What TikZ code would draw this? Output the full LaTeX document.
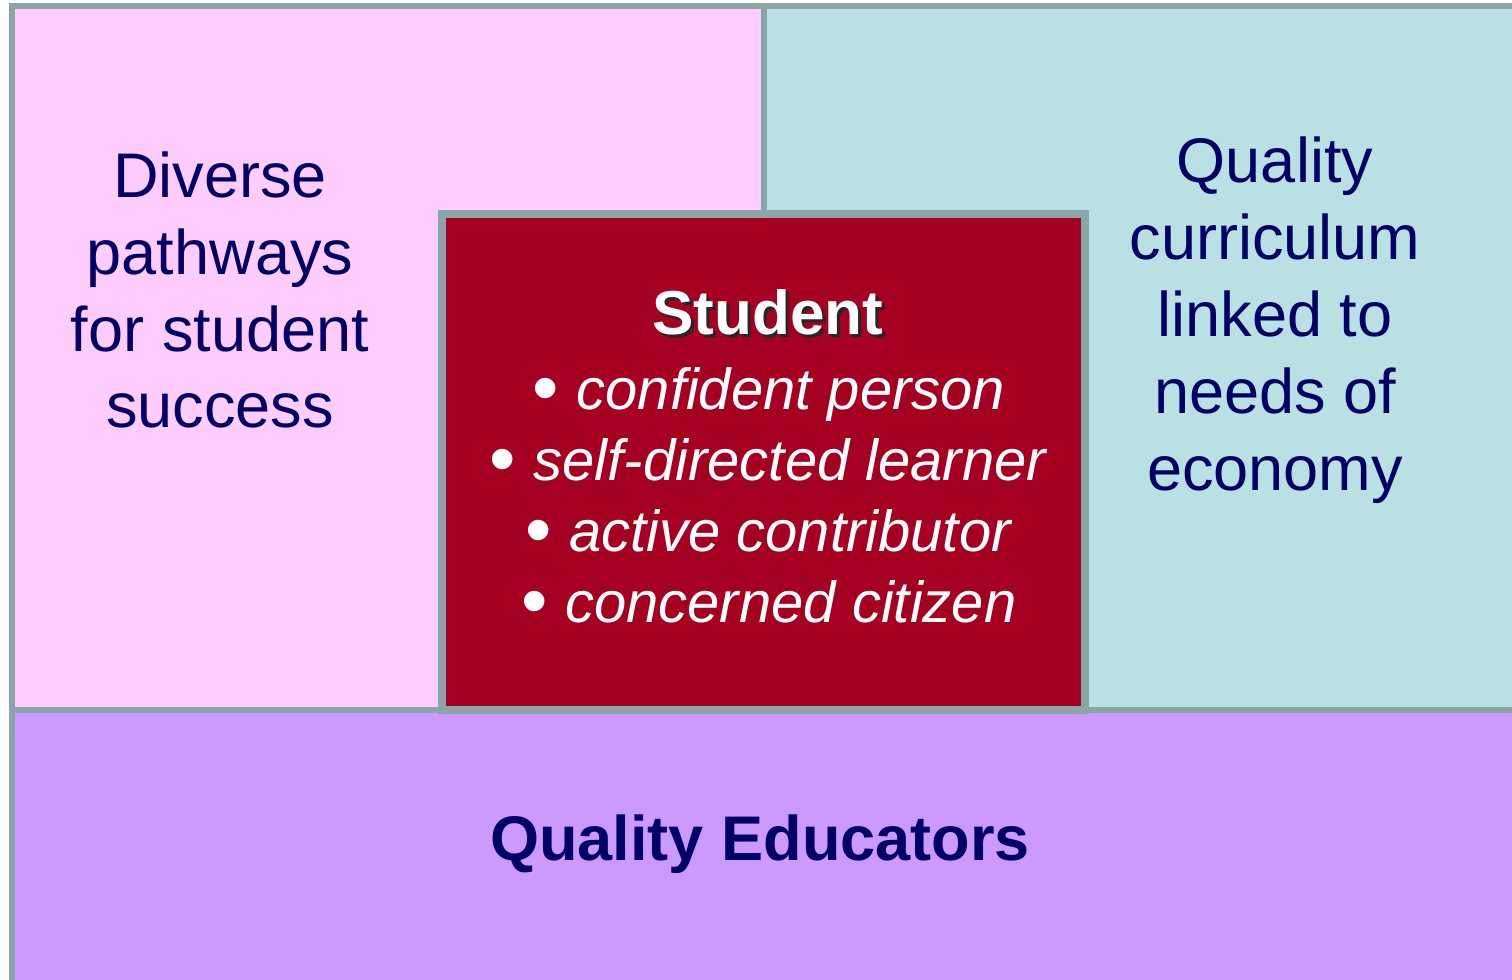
\documentclass[tikz,border=0pt]{standalone}
\usepackage{fontspec}
\setmainfont{Liberation Sans}
\definecolor{framegray}{RGB}{138,165,166}
\definecolor{pathpink}{RGB}{255,204,255}
\definecolor{currteal}{RGB}{185,224,227}
\definecolor{eduviolet}{RGB}{204,153,255}
\definecolor{studentred}{RGB}{165,0,33}
\definecolor{navytext}{RGB}{0,0,102}
\newcommand{\traitdot}{\raisebox{-0.06em}{\scalebox{1.3}{\textbullet}}\hspace{0.3em}}
\begin{document}
\begin{tikzpicture}[x=0.02cm, y=-0.02cm,
  panel/.style={draw=framegray, line width=0.12cm},
  bigtext/.style={text=navytext, align=center, font=\fontsize{35.9}{43.8}\selectfont},
  listtext/.style={text=white, align=center, font=\fontsize{33}{40.4}\selectfont}]
\useasboundingbox (0,0) rectangle (1512,980);
\clip (0,0) rectangle (1512,980);
\draw[panel, fill=pathpink](12,6.5) rectangle (764,710);
\draw[panel, fill=currteal](764,6.5) rectangle (1540,710);
\draw[panel, fill=eduviolet](12,710) rectangle (1540,1010);
\draw[panel, line width=0.17cm, fill=studentred](442,214) rectangle (1085,710);
\node[bigtext](pathways) at (220,290) {Diverse\\pathways\\for student\\success};
\node[bigtext](curriculum) at (1275,320) {Quality\\curriculum\\linked to\\needs of\\economy};
\node[bigtext, font=\fontsize{35.9}{43.8}\selectfont\bfseries](educators) at (760,844) {Quality Educators};
\node[listtext, text=black!85, font=\fontsize{35.3}{43}\selectfont\bfseries](studentshadow) at (771,315) {Student};
\node[listtext, font=\fontsize{35.3}{43}\selectfont\bfseries](student) at (768,312) {Student};
\node[listtext](traits) at (769,497) {\traitdot\textit{confident person}\\\traitdot\textit{self-directed learner}\\\traitdot\textit{active contributor}\\\traitdot\textit{concerned citizen}};
\end{tikzpicture}
\end{document}
